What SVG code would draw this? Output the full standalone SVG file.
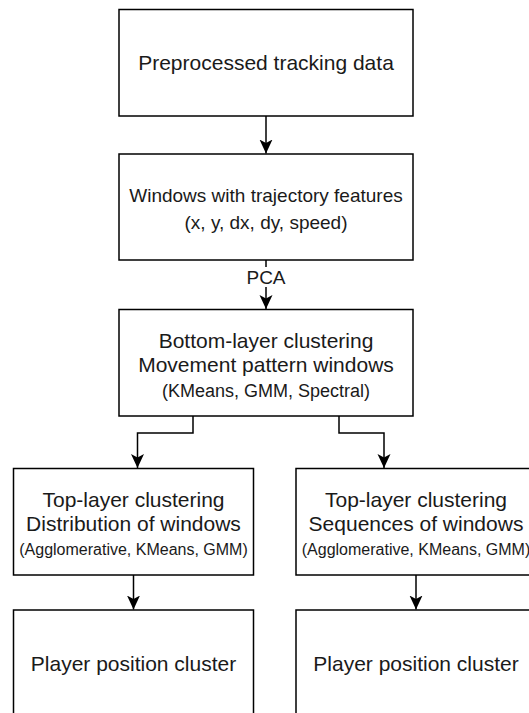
<svg xmlns="http://www.w3.org/2000/svg" width="529" height="713" viewBox="0 0 529 713">
<style>
.box{fill:#fff;stroke:#000;stroke-width:1.5}
.t{font-family:"Liberation Sans",Arial,sans-serif;fill:#1a1a1a;text-anchor:middle;dominant-baseline:central}
.big{font-size:21px}
.mid{font-size:19px}
.sm{font-size:18px}
.xs{font-size:16px}
.edge{fill:none;stroke:#000;stroke-width:1.5}
</style>
<defs>
<marker id="arr" markerUnits="userSpaceOnUse" markerWidth="15" markerHeight="14" refX="14" refY="7" orient="auto">
<path d="M0,0.5 L14,7 L0,13.5 L3.5,7 Z" fill="#000"/>
</marker>
</defs>
<rect width="529" height="713" fill="#fff"/>
<g id="connectors">
<path class="edge" d="M266,116 V153.5" marker-end="url(#arr)"/>
<path class="edge" d="M266,260 V309" marker-end="url(#arr)"/>
<path class="edge" d="M193,416 V433 H137.5 V468" marker-end="url(#arr)"/>
<path class="edge" d="M339,416 V433 H384 V468" marker-end="url(#arr)"/>
<path class="edge" d="M133.5,575 V609.5" marker-end="url(#arr)"/>
<path class="edge" d="M416,575 V609.5" marker-end="url(#arr)"/>
<rect x="245" y="267" width="42" height="20" fill="#fff"/>
<text class="t mid" x="266" y="277">PCA</text>
</g>
<g id="n1">
<rect class="box" x="119" y="9.5" width="294" height="106.5"/>
<text class="t big" x="266" y="62">Preprocessed tracking data</text>
</g>
<g id="n2">
<rect class="box" x="119" y="154" width="294" height="106"/>
<text class="t mid" x="266" y="195">Windows with trajectory features</text>
<text class="t mid" x="266" y="222">(x, y, dx, dy, speed)</text>
</g>
<g id="n3">
<rect class="box" x="119" y="309.5" width="294" height="106.5"/>
<text class="t big" x="266" y="340">Bottom-layer clustering</text>
<text class="t big" x="266" y="364">Movement pattern windows</text>
<text class="t sm" x="266" y="390.5">(KMeans, GMM, Spectral)</text>
</g>
<g id="n4">
<rect class="box" x="13.5" y="468.5" width="240" height="106.5"/>
<text class="t big" x="133.5" y="499">Top-layer clustering</text>
<text class="t big" x="133.5" y="523.5">Distribution of windows</text>
<text class="t xs" x="133.5" y="549.5">(Agglomerative, KMeans, GMM)</text>
</g>
<g id="n5">
<rect class="box" x="296" y="468.5" width="240" height="106.5"/>
<text class="t big" x="416" y="499">Top-layer clustering</text>
<text class="t big" x="416" y="523.5">Sequences of windows</text>
<text class="t xs" x="416" y="549.5">(Agglomerative, KMeans, GMM)</text>
</g>
<g id="n6">
<rect class="box" x="13.5" y="610" width="240" height="107"/>
<text class="t big" x="133.5" y="663">Player position cluster</text>
</g>
<g id="n7">
<rect class="box" x="296" y="610" width="240" height="107"/>
<text class="t big" x="416" y="663">Player position cluster</text>
</g>
</svg>
